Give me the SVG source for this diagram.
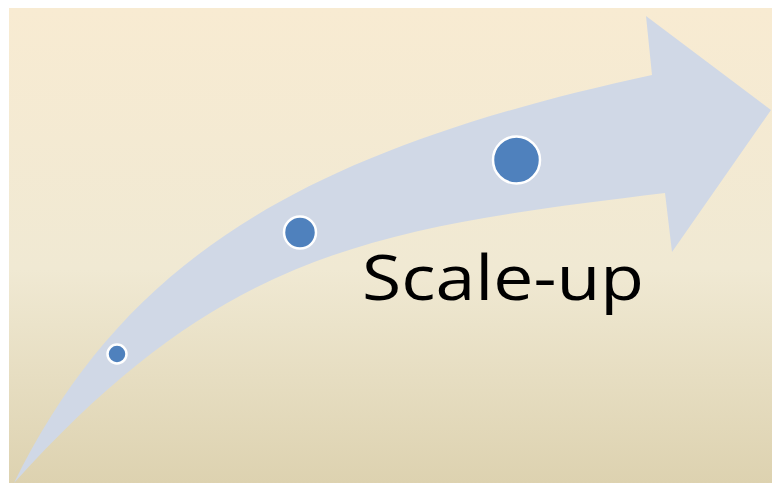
<svg xmlns="http://www.w3.org/2000/svg" width="772" height="483" viewBox="0 0 772 483">
<defs>
<linearGradient id="bg" x1="0" y1="0" x2="0" y2="1">
<stop offset="0" stop-color="#F8EBD2"/>
<stop offset="0.55" stop-color="#F0E9D3"/>
<stop offset="1" stop-color="#DDD2B0"/>
</linearGradient>
<style>
.dot{fill:#4F81BD;stroke:#FFFFFF;stroke-width:2.5}
.lbl{font-family:"Open Sans","Liberation Sans",sans-serif;font-size:63px;fill:#000000}
</style>
</defs>
<rect x="0" y="0" width="772" height="483" fill="#FFFFFF"/>
<rect x="9" y="8" width="763" height="475" fill="url(#bg)"/>
<g id="arrow">
<path d="M14,483 C122,264 295,152 652,75 L646,16 L771,110 L672,252 L665,193 C377,228 225,249 14,483 Z" fill="#D0D8E6"/>
</g>
<g id="dot1"><circle class="dot" cx="117" cy="354" r="9.5"/></g>
<g id="dot2"><circle class="dot" cx="300" cy="232.5" r="16"/></g>
<g id="dot3"><circle class="dot" cx="516.5" cy="160" r="23.5"/></g>
<g id="label"><text class="lbl" x="362" y="300" textLength="282" lengthAdjust="spacingAndGlyphs">Scale-up</text></g>
</svg>
